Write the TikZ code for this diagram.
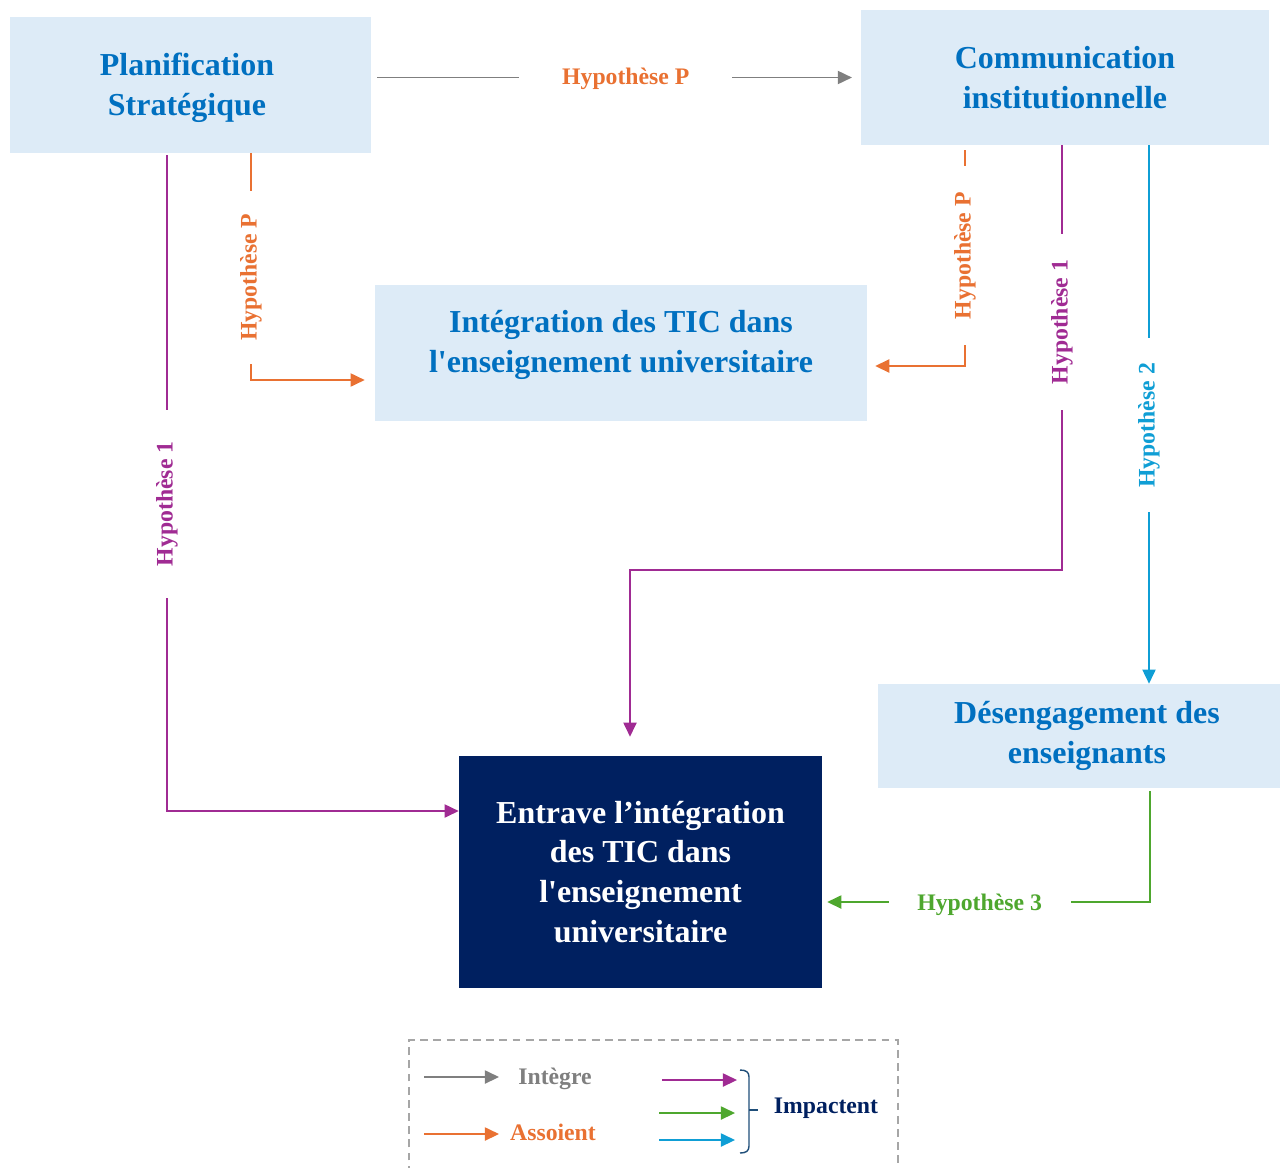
\documentclass[tikz,border=0pt]{standalone}
\usepackage{fontspec}
\setmainfont{Liberation Serif}
\usetikzlibrary{arrows.meta}
\definecolor{boxfill}{HTML}{DDEBF7}
\definecolor{boxtext}{HTML}{0070C0}
\definecolor{navy}{HTML}{002060}
\definecolor{hyporange}{HTML}{E97132}
\definecolor{hyppurple}{HTML}{A02B93}
\definecolor{hypgreen}{HTML}{4EA72E}
\definecolor{hypcyan}{HTML}{0F9ED5}
\definecolor{integray}{HTML}{7F7F7F}
\definecolor{bracecol}{HTML}{1F4E79}
\definecolor{legendframe}{HTML}{A6A6A6}

\begin{document}
\begin{tikzpicture}[x=0.02cm,y=-0.02cm,
  lightbox/.style={rectangle, fill=boxfill, inner sep=0pt, text=boxtext,
    font=\fontsize{18.2}{22.7}\selectfont\bfseries, align=center},
  darkbox/.style={rectangle, fill=navy, inner sep=0pt, text=white,
    font=\fontsize{18.2}{22.7}\selectfont\bfseries, align=center},
  conn/.style={line width=0.8pt, -{Triangle[length=8pt,width=7.5pt]}},
  hyp/.style={fill=white, font=\fontsize{13.5}{16}\selectfont\bfseries,
    inner xsep=14pt, inner ysep=2pt},
  legtext/.style={font=\fontsize{13.5}{16}\selectfont\bfseries},
]
\clip (0,0) rectangle (1280,1167);

% boxes
\node[lightbox, minimum width=7.22cm, minimum height=2.72cm] (plan) at (190.5,85) {};
\node[lightbox] (plantext) at (187,88) {Planification\\Stratégique};
\node[lightbox, minimum width=8.16cm, minimum height=2.7cm] (comm) at (1065,77.5)
  {Communication\\institutionnelle};
\node[lightbox, minimum width=9.84cm, minimum height=2.72cm] (integ) at (621,353) {};
\node[lightbox] (integtext) at (621,345)
  {Intégration des TIC dans\\l\textquotesingle enseignement universitaire};
\node[lightbox, minimum width=8.36cm, minimum height=2.08cm] (deseng) at (1087,736)
  {Désengagement des\\enseignants};
\node[darkbox, minimum width=7.26cm, minimum height=4.64cm] (entr) at (640.5,872)
  {Entrave l’intégration\\des TIC dans\\l\textquotesingle enseignement\\universitaire};

% turning points of the connectors
\coordinate (oL) at (251,380);
\coordinate (oR) at (965,366);
\coordinate (pR1) at (1062,570);
\coordinate (pR2) at (630,570);
\coordinate (pL) at (167,811);
\coordinate (cC) at (1149,0);
\coordinate (gC) at (1150,902);

% connectors
\draw[conn, integray, shorten <=3.4pt, shorten >=5pt]
  (plan.east |- comm.west) --
  node[hyp, text=hyporange, pos=0.52, inner xsep=24.4pt, yshift=-1pt] {Hypothèse P} (comm.west);

\draw[conn, hyporange, shorten >=5.7pt]
  (plan.south -| oL) --
  node[hyp, rotate=90, text=hyporange, pos=0.546, inner xsep=13pt] {Hypothèse P}
  (oL) -- (integ.west |- oL);

\draw[conn, hyporange, shorten <=2.8pt, shorten >=4.5pt]
  (comm.south -| oR) --
  node[hyp, rotate=90, text=hyporange, pos=0.5, inner xsep=14.7pt] {Hypothèse P}
  (oR) -- (integ.east |- oR);

\draw[conn, hyppurple, shorten >=10.8pt]
  (comm.south -| pR1) --
  node[hyp, rotate=90, text=hyppurple, pos=0.416, inner xsep=14.7pt] {Hypothèse 1}
  (pR1) -- (pR2) -- (entr.north -| pR2);

\draw[conn, hyppurple, shorten <=1.1pt]
  (plan.south -| pL) --
  node[hyp, rotate=90, text=hyppurple, pos=0.533, inner xsep=18pt] {Hypothèse 1}
  (pL) -- (entr.west |- pL);

\draw[conn, hypcyan]
  (comm.south -| cC) --
  node[hyp, rotate=90, text=hypcyan, pos=0.52, inner xsep=14pt] {Hypothèse 2}
  (deseng.north -| cC);

\draw[conn, hypgreen, shorten <=1.7pt, shorten >=2.8pt]
  (deseng.south -| gC) -- (gC) --
  node[hyp, text=hypgreen, pos=0.52, inner xsep=16.4pt, yshift=-1.5pt] {Hypothèse 3}
  (entr.east |- gC);

% legend
\draw[legendframe, line width=1.1pt, dash pattern=on 4.5pt off 3pt]
  (409,1200) -- (409,1040) -- (898,1040) -- (898,1200);

\coordinate (lg1a) at (424,1077); \coordinate (lg1b) at (499,1077);
\coordinate (lg2a) at (424,1134); \coordinate (lg2b) at (499,1134);
\coordinate (lg3a) at (662,1080); \coordinate (lg3b) at (737,1080);
\coordinate (lg4a) at (659,1113); \coordinate (lg4b) at (735,1113);
\coordinate (lg5a) at (659,1140); \coordinate (lg5b) at (735,1140);
\draw[conn, integray] (lg1a) -- (lg1b);
\draw[conn, hyporange] (lg2a) -- (lg2b);
\draw[conn, hyppurple] (lg3a) -- (lg3b);
\draw[conn, hypgreen] (lg4a) -- (lg4b);
\draw[conn, hypcyan] (lg5a) -- (lg5b);

\node[legtext, text=integray] (lintegre) at (555,1079) {Intègre};
\node[legtext, text=hyporange] (lassoient) at (553,1132) {Assoient};
\node[legtext, text=navy] (limpact) at (826,1108) {Impactent};

% brace grouping the three impact arrows
\draw[bracecol, line width=0.8pt]
  (740,1070) .. controls (746,1070) and (749,1072) .. (749,1077)
  -- (749,1146) .. controls (749,1151) and (746,1153) .. (740,1153);
\draw[bracecol, line width=0.8pt] (749,1110) -- (758,1110);

\end{tikzpicture}
\end{document}
